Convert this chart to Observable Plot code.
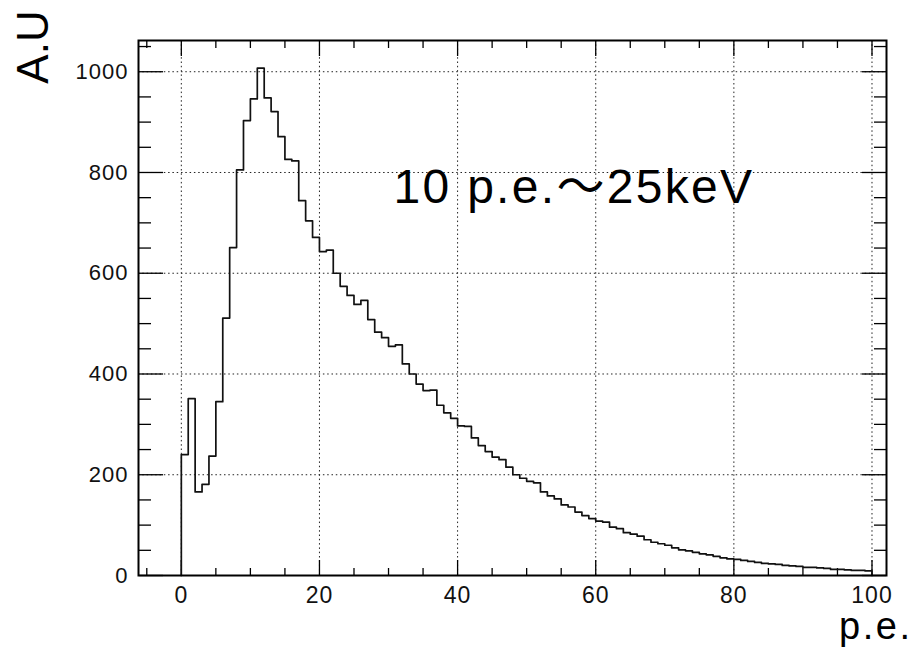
<!DOCTYPE html>
<html>
<head>
<meta charset="utf-8">
<script src="https://cdn.jsdelivr.net/npm/d3@7"></script>
<script src="https://cdn.jsdelivr.net/npm/@observablehq/plot@0.6"></script>
<style>
  html, body { margin: 0; padding: 0; background: #fff; }
  #chart svg { display: block; }
  g[aria-label="y-axis tick label"] text { letter-spacing: 1px; }
  g[aria-label="x-axis tick label"] text { letter-spacing: 1px; }
</style>
</head>
<body>
<div id="chart"></div>
<script>
// Histogram contents, 1 p.e. wide bins starting at 0
const binStart = 0;
const binWidth = 1;
const counts = [
  240, 351, 166, 181, 237, 345, 511, 651, 805, 903,
  946, 1007, 948, 921, 871, 826, 823, 744, 704, 671,
  643, 646, 600, 574, 556, 538, 546, 508, 483, 472,
  455, 458, 420, 400, 380, 367, 368, 338, 323, 312,
  297, 296, 273, 258, 246, 235, 230, 215, 200, 193,
  187, 184, 166, 158, 152, 140, 136, 126, 119, 113,
  108, 106, 96, 93, 85, 82, 78, 71, 66, 63,
  60, 55, 51, 49, 46, 43, 41, 38, 35, 33,
  32, 30, 28, 26, 24, 23, 22, 20, 19, 18,
  16, 16, 15, 14, 12, 12, 11, 10, 10, 9
];
const xMajorTicks = [0, 20, 40, 60, 80, 100];
const xMinorTicks = [-5, 5, 10, 15, 25, 30, 35, 45, 50, 55, 65, 70, 75, 85, 90, 95];
const yMajorTicks = [0, 200, 400, 600, 800, 1000];
const yMinorTicks = [50, 100, 150, 250, 300, 350, 450, 500, 550, 650, 700, 750, 850, 900, 950, 1050];
const xDomain = [-6.2, 102.1];
const yDomain = [0, 1062];
const yTitle = "A.U";
const xTitle = "p.e.";
const note = "10 p.e.～25keV";

// Outline points of the histogram (step-after)
const steps = [{x: binStart, y: 0}];
counts.forEach((c, i) => steps.push({x: binStart + i * binWidth, y: c}));
const xEnd = binStart + counts.length * binWidth;
steps.push({x: xEnd, y: counts[counts.length - 1]});
steps.push({x: xEnd, y: 0});

const fmt = d => String(d);
const font = "'Liberation Sans', Arial, Helvetica, 'Noto Sans CJK JP', sans-serif";

const chart = Plot.plot({
  width: 915,
  height: 650,
  marginLeft: 138,
  marginRight: 29,
  marginTop: 40,
  marginBottom: 75,
  style: {fontFamily: font, background: "#fff", color: "#000", overflow: "visible"},
  x: {domain: xDomain},
  y: {domain: yDomain},
  marks: [
    Plot.gridX({ticks: xMajorTicks, stroke: "#222", strokeOpacity: 1, strokeWidth: 1, strokeDasharray: "1.5,2.8"}),
    Plot.gridY({ticks: yMajorTicks, stroke: "#222", strokeOpacity: 1, strokeWidth: 1, strokeDasharray: "1.5,2.8"}),
    // inward ticks: bottom
    Plot.axisX({anchor: "top", frameAnchor: "bottom", ticks: xMajorTicks, tickSize: 16, tickFormat: () => "", label: null, strokeWidth: 1.3}),
    Plot.axisX({anchor: "top", frameAnchor: "bottom", ticks: xMinorTicks, tickSize: 8, tickFormat: () => "", label: null, strokeWidth: 1.3}),
    // top
    Plot.axisX({anchor: "bottom", frameAnchor: "top", ticks: xMajorTicks, tickSize: 16, tickFormat: () => "", label: null, strokeWidth: 1.3}),
    Plot.axisX({anchor: "bottom", frameAnchor: "top", ticks: xMinorTicks, tickSize: 8, tickFormat: () => "", label: null, strokeWidth: 1.3}),
    // left
    Plot.axisY({anchor: "right", frameAnchor: "left", ticks: yMajorTicks, tickSize: 24, tickFormat: () => "", label: null, strokeWidth: 1.3}),
    Plot.axisY({anchor: "right", frameAnchor: "left", ticks: yMinorTicks, tickSize: 12, tickFormat: () => "", label: null, strokeWidth: 1.3}),
    // right
    Plot.axisY({anchor: "left", frameAnchor: "right", ticks: yMajorTicks, tickSize: 24, tickFormat: () => "", label: null, strokeWidth: 1.3}),
    Plot.axisY({anchor: "left", frameAnchor: "right", ticks: yMinorTicks, tickSize: 12, tickFormat: () => "", label: null, strokeWidth: 1.3}),
    // tick labels
    Plot.axisX({anchor: "bottom", ticks: xMajorTicks, tickSize: 0, tickPadding: 11, tickFormat: fmt, fontSize: 23, label: null, fill: "#111"}),
    Plot.axisY({anchor: "left", ticks: yMajorTicks, tickSize: 0, tickPadding: 10, tickFormat: fmt, fontSize: 22, label: null, fill: "#111"}),
    // histogram outline
    Plot.line(steps, {x: "x", y: "y", curve: "step-after", stroke: "#111", strokeWidth: 1.7}),
    Plot.frame({stroke: "#000", strokeWidth: 2}),
    // titles and annotation
    Plot.text([yTitle], {text: d => d, frameAnchor: "top-left", dx: -105, dy: 6.5, rotate: -90, textAnchor: "middle", lineAnchor: "middle", fontSize: 44, fill: "#000"}),
    Plot.text([xTitle], {text: d => d, frameAnchor: "bottom-right", dx: 26, dy: 51.5, textAnchor: "end", lineAnchor: "middle", fontSize: 38, fill: "#000"}),
    Plot.text([note], {text: d => d, frameAnchor: "top-left", dx: 255, dy: 147.6, textAnchor: "start", lineAnchor: "middle", fontSize: 48, fill: "#000"})
  ]
});
document.getElementById("chart").appendChild(chart);
// widen the wide-set labels as in the reference
d3.select(chart).selectAll("text").each(function() {
  const t = this.textContent;
  if (t === note) this.style.letterSpacing = "2.3px";
  if (t === xTitle) this.style.letterSpacing = "2.5px";
});
</script>
</body>
</html>
